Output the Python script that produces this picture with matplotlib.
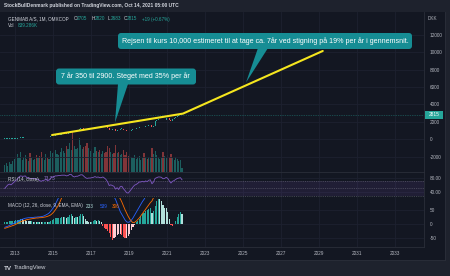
import numpy as np
import matplotlib
matplotlib.use("Agg")
import matplotlib.pyplot as plt
from matplotlib.patches import FancyBboxPatch, Polygon, Rectangle

plt.rcParams['font.family'] = ['Liberation Sans', 'DejaVu Sans']

BG = '#131722'
HEAD = '#1e222d'
GRID = '#1d2130'
SEP = '#2a2e39'
TXT = '#b2b5be'
UP = '#26a69a'
DOWN = '#ef5350'

# monthly candles, Jun 2012 .. Oct 2021 (DKK)
close_2012 = [45, 50, 55, 60, 62, 70, 80]
close_2013 = [90, 110, 150, 190, 200, 210, 230, 220, 230, 215, 230, 240]
close_2014 = [250, 240, 250, 230, 220, 240, 250, 270, 250, 260, 330, 360]
close_2015 = [400, 450, 470, 500, 520, 580, 600, 640, 630, 700, 860, 920]
close_2016 = [850, 880, 960, 1000, 1130, 1250, 1300, 1220, 1130, 1100, 1150, 1170]
close_2017 = [1230, 1280, 1400, 1360, 1400, 1360, 1380, 1500, 1440, 1370, 1250, 1030]
close_2018 = [1100, 1150, 1140, 1000, 1100, 1020, 1200, 1230, 1120, 1020, 920, 900]
close_2019 = [950, 1030, 1130, 1210, 1240, 1300, 1390, 1390, 1450, 1410, 1500, 1470]
close_2020 = [1600, 1640, 1400, 1570, 2070, 2200, 2300, 2300, 2300, 2200, 2250, 2450]
close_2021 = [2400, 2200, 2050, 2300, 2400, 2560, 2700, 2750, 2780, 2815]
first_open = 40

vol_2012 = [1500, 1800, 1200, 2000, 1600, 2200, 2600]
vol_2013 = [3000, 3600, 2800, 4000, 2400, 3000, 3400, 2600, 2200, 3800, 2800, 2400]
vol_2014 = [2600, 3400, 2800, 3200, 4200, 2800, 2400, 3600, 2800, 2600, 4400, 3800]
vol_2015 = [4000, 4600, 3600, 3400, 4200, 5000, 4400, 3800, 5400, 4800, 6000, 4600]
vol_2016 = [8200, 5400, 4800, 5000, 7000, 5600, 4800, 5200, 5400, 6000, 5000, 4400]
vol_2017 = [4800, 3800, 5200, 4400, 4000, 4600, 3600, 4400, 3800, 4000, 5400, 5000]
vol_2018 = [4200, 3600, 3800, 5600, 3800, 4200, 3400, 3600, 4600, 3400, 4200, 3200]
vol_2019 = [3600, 3000, 2800, 3400, 2600, 3000, 3200, 2400, 2800, 3800, 3000, 2600]
vol_2020 = [3000, 2800, 5000, 3600, 4400, 3400, 3000, 2600, 2800, 4000, 3200, 2800]
vol_2021 = [3400, 3000, 3600, 2800, 2400, 3000, 2600, 2200, 2400, 839]

rsi_2012 = [50, 55, 60, 62, 60, 64, 68]
rsi_2013 = [72, 76, 82, 85, 84, 84, 85, 80, 80, 76, 78, 78]
rsi_2014 = [78, 75, 76, 72, 70, 72, 73, 75, 72, 73, 79, 81]
rsi_2015 = [83, 85, 85, 86, 86, 87, 87, 87, 85, 86, 89, 89]
rsi_2016 = [84, 82, 84, 84, 86, 88, 88, 84, 80, 78, 79, 79]
rsi_2017 = [80, 81, 83, 81, 82, 80, 80, 82, 79, 75, 68, 58]
rsi_2018 = [60, 58, 56, 48, 52, 47, 55, 56, 49, 44, 38, 37]
rsi_2019 = [42, 48, 54, 59, 61, 64, 68, 68, 70, 68, 71, 69]
rsi_2020 = [73, 74, 63, 68, 78, 80, 82, 82, 81, 77, 78, 81]
rsi_2021 = [78, 71, 65, 70, 72, 75, 78, 79, 80, 74]

hist_2012 = [6, 8, 9, 10, 10, 11, 12]
hist_2013 = [13, 14, 16, 18, 17, 15, 14, 12, 11, 10, 10, 9]
hist_2014 = [9, 8, 8, 7, 6, 6, 6, 8, 7, 7, 12, 16]
hist_2015 = [18, 22, 22, 22, 22, 25, 24, 25, 22, 24, 34, 36]
hist_2016 = [30, 22, 25, 24, 30, 36, 36, 28, 18, 10, 8, 6]
hist_2017 = [8, 10, 16, 12, 14, 10, 8, -6, -14, -20, -26, -34]
hist_2018 = [-48, -57, -50, -46, -40, -38, -36, -40, -46, -52, -50, -44]
hist_2019 = [-36, -22, -10, -2, 6, 12, 20, 28, 36, 40, 46, 50]
hist_2020 = [56, 60, 40, 48, 66, 84, 93, 90, 84, 70, 60, 58]
hist_2021 = [44, 20, -4, -6, 0, 12, 26, 38, 43, 36]

macd_2012 = [-12, -10, -8, -5, -2, 0, 3]
macd_2013 = [6, 9, 12, 15, 17, 19, 21, 22, 23, 23, 24, 24]
macd_2014 = [25, 25, 26, 26, 27, 28, 30, 33, 36, 40, 46, 54]
macd_2015 = [62, 72, 84, 96, 112, 130, 148, 166, 184, 204, 234, 264]
macd_2016 = [280, 280, 290, 300, 320, 340, 360, 360, 350, 330, 310, 290]
macd_2017 = [280, 275, 280, 275, 275, 270, 265, 260, 240, 220, 190, 160]
macd_2018 = [130, 112, 100, 90, 75, 60, 45, 35, 25, 15, 8, 6]
macd_2019 = [8, 14, 22, 32, 42, 52, 62, 72, 82, 90, 100, 110]
macd_2020 = [120, 135, 140, 160, 200, 250, 300, 340, 370, 390, 410, 440]
macd_2021 = [460, 470, 470, 480, 490, 500, 515, 525, 535, 539]

sig_2012 = [-16, -14, -12, -10, -8, -6, -4]
sig_2013 = [-1, 2, 5, 8, 10, 12, 14, 16, 17, 18, 19, 20]
sig_2014 = [21, 22, 22, 23, 23, 24, 25, 26, 28, 30, 33, 38]
sig_2015 = [44, 52, 60, 70, 82, 96, 110, 126, 142, 158, 178, 200]
sig_2016 = [225, 238, 250, 260, 272, 285, 298, 310, 318, 322, 324, 323]
sig_2017 = [320, 318, 316, 313, 310, 306, 302, 298, 290, 280, 265, 245]
sig_2018 = [225, 200, 175, 150, 125, 100, 92, 80, 66, 52, 40, 28]
sig_2019 = [18, 10, 5, 6, 10, 16, 22, 30, 38, 46, 54, 62]
sig_2020 = [70, 78, 84, 96, 110, 125, 140, 160, 180, 200, 215, 230]
sig_2021 = [245, 255, 265, 272, 280, 285, 292, 298, 303, 306]

# hand drawn trend lines
trend_x = [2014.95, 2021.84, 2029.2]
trend_y = [490, 2950, 10150]
last_price = 2815

price_ticks = [-2000, 0, 2000, 4000, 6000, 8000, 10000, 12000]
rsi_ticks = [40, 80]
macd_ticks = [-50, 0, 50]
year_ticks = list(range(2013, 2034, 2))

closes = np.array(close_2012 + close_2013 + close_2014 + close_2015 + close_2016 +
                  close_2017 + close_2018 + close_2019 + close_2020 + close_2021, float)
vols = np.array(vol_2012 + vol_2013 + vol_2014 + vol_2015 + vol_2016 +
                vol_2017 + vol_2018 + vol_2019 + vol_2020 + vol_2021, float)
rsi = np.array(rsi_2012 + rsi_2013 + rsi_2014 + rsi_2015 + rsi_2016 +
               rsi_2017 + rsi_2018 + rsi_2019 + rsi_2020 + rsi_2021, float)
hist = np.array(hist_2012 + hist_2013 + hist_2014 + hist_2015 + hist_2016 +
                hist_2017 + hist_2018 + hist_2019 + hist_2020 + hist_2021, float)
macd = np.array(macd_2012 + macd_2013 + macd_2014 + macd_2015 + macd_2016 +
                macd_2017 + macd_2018 + macd_2019 + macd_2020 + macd_2021, float)
sig = np.array(sig_2012 + sig_2013 + sig_2014 + sig_2015 + sig_2016 +
               sig_2017 + sig_2018 + sig_2019 + sig_2020 + sig_2021, float)
opens = np.concatenate([[first_open], closes[:-1]])
t = np.array([2012 + (5 + i) / 12 + 1 / 24 for i in range(len(closes))])

W, H = 450, 276
fig = plt.figure(figsize=(W / 100, H / 100), dpi=100, facecolor=HEAD)


def px_axes(x0, y0, x1, y1, **kw):
    return fig.add_axes([x0 / W, 1 - y1 / H, (x1 - x0) / W, (y1 - y0) / H], **kw)


bgax = px_axes(0, 12, 445, 260, zorder=-10)
bgax.set_facecolor(BG)
bgax.set_xticks([])
bgax.set_yticks([])
for s in bgax.spines.values():
    s.set_visible(False)

XL = (2012.21, 2034.53)
ax = px_axes(0, 12, 424, 172, zorder=2)
ax_rsi = px_axes(0, 172, 424, 198)
ax_macd = px_axes(0, 198, 424, 247)

# volume overlay sits below the candles
volax = ax.twinx()
volax.set_zorder(1)
volax.set_ylim(0, 32800)
volax.axis('off')
ax.set_zorder(2)

for a in (ax, ax_rsi, ax_macd):
    a.set_facecolor(BG)
    a.set_xlim(*XL)
    a.set_xticks(year_ticks)
    a.grid(True, color=GRID, lw=0.6)
    a.set_axisbelow(True)
    a.yaxis.tick_right()
    a.tick_params(axis='y', length=0, labelsize=3.4, labelcolor=TXT, pad=4)
    a.tick_params(axis='x', length=0, labelbottom=False)
    for k, s in a.spines.items():
        s.set_color(SEP)
        s.set_linewidth(0.6)
        s.set_visible(k in ('bottom', 'right'))
ax.patch.set_visible(False)
volax.patch.set_visible(False)

# price pane
ax.set_ylim(-3760, 14630)
ax.set_yticks(price_ticks)
ax.set_yticklabels([str(v) for v in price_ticks])

up = closes >= opens
vcol = np.where(up, UP, DOWN)
volax.bar(t, vols, width=0.062, color=vcol, alpha=0.5, lw=0)

body = np.maximum(np.abs(closes - opens), 60)
ax.bar(t, body, bottom=np.minimum(opens, closes), width=0.05,
       color=np.where(up, UP, DOWN), lw=0, zorder=3)
ax.axhline(last_price, color=UP, lw=0.5, ls=(0, (1, 1.5)), alpha=0.7, zorder=2)
ax.plot(trend_x, trend_y, color='#f5e61e', lw=1.5, solid_capstyle='round', zorder=4)

# RSI pane
ax_rsi.set_ylim(23.2, 95.9)
ax_rsi.set_yticks(rsi_ticks)
ax_rsi.set_yticklabels(['%.2f' % v for v in rsi_ticks])
ax_rsi.axhspan(30, 70, color='#7e57c2', alpha=0.12, lw=0)
for lvl in (30, 50, 70):
    ax_rsi.axhline(lvl, color='#787b86', lw=0.4, ls=(0, (2, 2)), alpha=0.8)
ax_rsi.plot(t, rsi, color='#7e57c2', lw=0.6)

# MACD pane
ax_macd.set_ylim(-83.9, 94.9)
ax_macd.set_yticks(macd_ticks)
ax_macd.set_yticklabels([str(v) for v in macd_ticks])
hcol = []
for i, h in enumerate(hist):
    prev = hist[i - 1] if i > 0 else 0
    if h >= 0:
        hcol.append('#26a69a' if h >= prev else '#b2dfdb')
    else:
        hcol.append('#ff5252' if h < prev else '#ffcdd2')
ax_macd.bar(t, hist, width=0.06, color=hcol, lw=0)
ax_macd.plot(t, macd, color='#2962ff', lw=0.6)
ax_macd.plot(t, sig, color='#ff6d00', lw=0.6)
ax_macd.tick_params(axis='x', labelbottom=True, labelsize=3.4, labelcolor=TXT, pad=3)
ax_macd.set_xticklabels([str(y) for y in year_ticks])

# overlay for texts and callouts (pixel coordinates)
ov = fig.add_axes([0, 0, 1, 1], zorder=20)
ov.set_xlim(0, W)
ov.set_ylim(H, 0)
ov.axis('off')
ov.patch.set_visible(False)

ov.plot([445, 445], [12, 260], color=SEP, lw=0.6)
ov.plot([0, 445], [260, 260], color=SEP, lw=0.6)
ov.text(4, 6, 'StockBullDenmark published on TradingView.com, Oct 14, 2021 05:00 UTC',
        color='#d1d4dc', fontsize=3.5, va='center', fontweight='bold')
ov.text(8, 19, 'GENMAB A/S, 1M, OMXCOP', color='#d1d4dc', fontsize=3.3, va='center')
for x0, lab, val in [(74, 'O', '2705'), (92, 'H', '2820'), (108, 'L', '2683'), (124, 'C', '2815')]:
    ov.text(x0, 19, lab, color='#d1d4dc', fontsize=3.3, va='center')
    ov.text(x0 + 3, 19, val, color=UP, fontsize=3.3, va='center')
ov.text(142, 19, '+19 (+0.67%)', color=UP, fontsize=3.3, va='center')
ov.text(8, 25.5, 'Vol', color='#d1d4dc', fontsize=3.3, va='center')
ov.text(18, 25.5, '839.286K', color=UP, fontsize=3.3, va='center')
ov.text(8, 179, 'RSI (14, close)', color='#d1d4dc', fontsize=3.3, va='center')
ov.text(44, 179, '73.73', color='#9575cd', fontsize=3.3, va='center')
ov.text(8, 206, 'MACD (12, 26, close, 9, EMA, EMA)', color='#d1d4dc', fontsize=3.3, va='center')
ov.text(86, 206, '233', color='#b2dfdb', fontsize=3.3, va='center')
ov.text(100, 206, '539', color='#2962ff', fontsize=3.3, va='center')
ov.text(112, 206, '306', color='#ff6d00', fontsize=3.3, va='center')
ov.text(432, 18, 'DKK', color=TXT, fontsize=3.3, va='center', ha='center')

# current price label
ov.add_patch(Rectangle((425, 110.5), 18, 8, color=UP, lw=0))
ov.text(434, 114.6, str(last_price), color='white', fontsize=3.4, va='center', ha='center')

# footer logo
ov.text(4, 268, 'TV', color='#d1d4dc', fontsize=4.5, va='center', fontweight='bold')
ov.text(14, 268, 'TradingView', color='#d1d4dc', fontsize=4.2, va='center')

CALL = '#168d94'
ov.add_patch(Polygon([(118, 84), (128, 84), (115, 122.5)], closed=True, color=CALL, lw=0))
ov.add_patch(FancyBboxPatch((56, 68.5), 140, 16, boxstyle='round,pad=0,rounding_size=3',
                            color=CALL, lw=0))
ov.text(125.5, 76.5, '7 år 350 til 2900. Steget med 35% per år', color='white',
        fontsize=5.1, ha='center', va='center')

ov.add_patch(Polygon([(258, 48), (268, 48), (246, 82.5)], closed=True, color=CALL, lw=0))
ov.add_patch(FancyBboxPatch((118, 33), 294, 16, boxstyle='round,pad=0,rounding_size=3',
                            color=CALL, lw=0))
ov.text(265, 41, 'Rejsen til kurs 10,000 estimeret til at tage ca. 7år ved stigning på 19% per år i gennemsnit.',
        color='white', fontsize=5.15, ha='center', va='center')

fig.savefig('out.png', dpi=100, facecolor=HEAD)
